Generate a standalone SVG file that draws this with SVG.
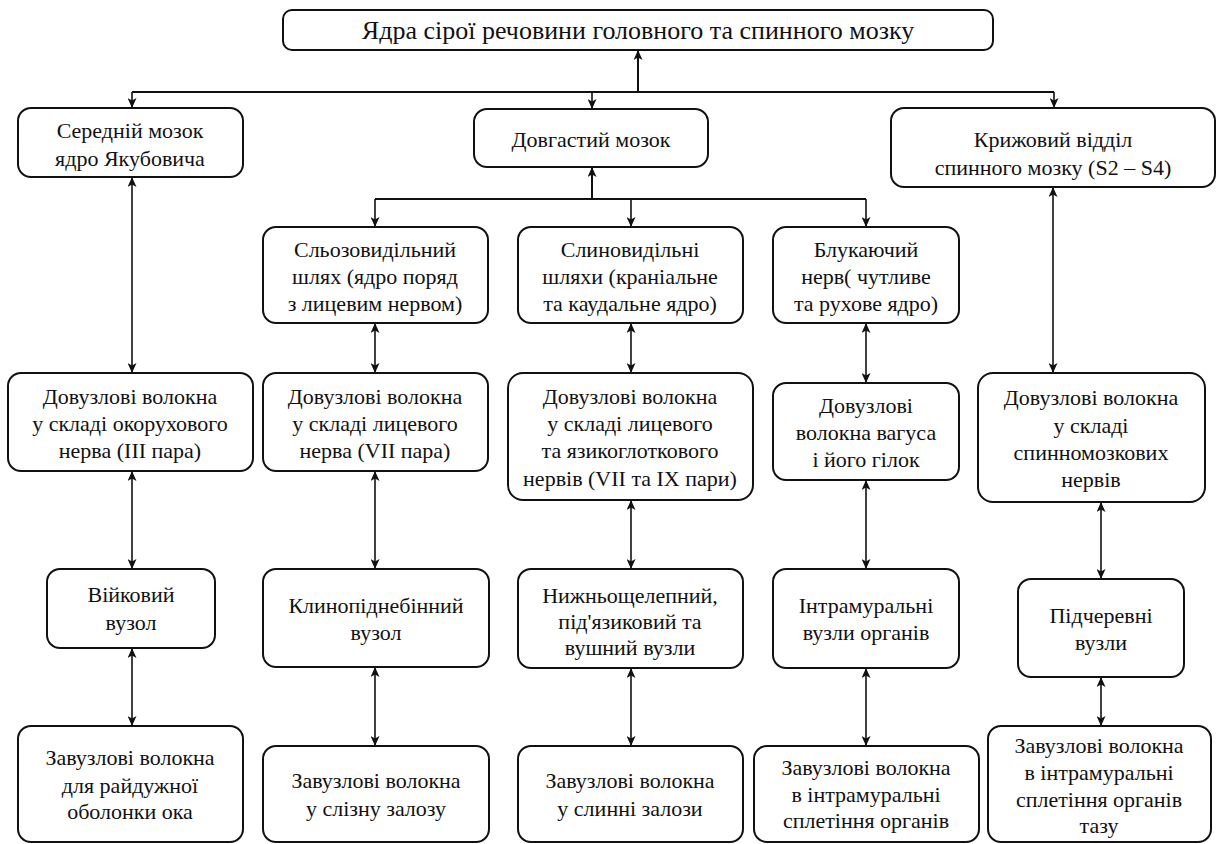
<svg xmlns="http://www.w3.org/2000/svg" width="1222" height="844" viewBox="0 0 1222 844">
<defs>
<marker id="ah" markerUnits="userSpaceOnUse" markerWidth="10" markerHeight="9" refX="10" refY="4.5" orient="auto-start-reverse">
<path d="M0,0 L10,4.5 L0,9 L2.5,4.5 z" fill="#111"/>
</marker>
</defs>
<rect width="1222" height="844" fill="#fff"/>
<g id="connectors" fill="none" stroke="#111" stroke-width="1.6">
<g stroke-width="2" marker-end="url(#ah)">
<path d="M638,92 V50"/>
<path d="M592,199 V167"/>
</g>
<g stroke-width="2">
<path d="M132,92 H1054"/>
<path d="M375,199 H866"/>
</g>
<g marker-end="url(#ah)">
<path d="M132,92 V108"/>
<path d="M592,92 V109"/>
<path d="M1054,92 V108"/>
<path d="M375,199 V227"/>
<path d="M631,199 V227"/>
<path d="M866,199 V227"/>
</g>
<g marker-start="url(#ah)" marker-end="url(#ah)">
<path d="M132,177 V373"/>
<path d="M1053,187 V373"/>
<path d="M375,323 V373"/>
<path d="M631,323 V373"/>
<path d="M866,323 V383"/>
<path d="M132,471 V569"/>
<path d="M375,471 V569"/>
<path d="M631,500 V569"/>
<path d="M866,480 V569"/>
<path d="M1101,502 V579"/>
<path d="M132,648 V726"/>
<path d="M375,667 V746"/>
<path d="M631,668 V746"/>
<path d="M866,668 V746"/>
<path d="M1101,677 V726"/>
</g>
</g>
<g id="nodes" fill="#fff" stroke="#111" stroke-width="2">
<g id="n0"><rect x="283" y="10" width="710" height="40" rx="9"/><text stroke="none" fill="#111" font-family="Liberation Serif" font-size="26" text-anchor="middle" x="638" y="39">Ядра сірої речовини головного та спинного мозку</text></g>
<g id="n1"><rect x="18" y="108" width="225" height="69" rx="13"/><text stroke="none" fill="#111" font-family="Liberation Serif" font-size="22" text-anchor="middle" x="130" y="138">Середній мозок</text><text stroke="none" fill="#111" font-family="Liberation Serif" font-size="22" text-anchor="middle" x="130" y="166">ядро Якубовича</text></g>
<g id="n2"><rect x="474" y="109" width="234" height="58" rx="13"/><text stroke="none" fill="#111" font-family="Liberation Serif" font-size="22" text-anchor="middle" x="591" y="147">Довгастий мозок</text></g>
<g id="n3"><rect x="891" y="108" width="324" height="79" rx="13"/><text stroke="none" fill="#111" font-family="Liberation Serif" font-size="22" text-anchor="middle" x="1053" y="147">Крижовий відділ</text><text stroke="none" fill="#111" font-family="Liberation Serif" font-size="22" text-anchor="middle" x="1053" y="175">спинного мозку (S2 – S4)</text></g>
<g id="n4"><rect x="263" y="227" width="225" height="96" rx="13"/><text stroke="none" fill="#111" font-family="Liberation Serif" font-size="22" text-anchor="middle" x="375" y="257">Сльозовидільний</text><text stroke="none" fill="#111" font-family="Liberation Serif" font-size="22" text-anchor="middle" x="375" y="284">шлях (ядро поряд</text><text stroke="none" fill="#111" font-family="Liberation Serif" font-size="22" text-anchor="middle" x="375" y="311">з лицевим нервом)</text></g>
<g id="n5"><rect x="518" y="227" width="225" height="96" rx="13"/><text stroke="none" fill="#111" font-family="Liberation Serif" font-size="22" text-anchor="middle" x="630" y="257">Слиновидільні</text><text stroke="none" fill="#111" font-family="Liberation Serif" font-size="22" text-anchor="middle" x="630" y="284">шляхи (краніальне</text><text stroke="none" fill="#111" font-family="Liberation Serif" font-size="22" text-anchor="middle" x="630" y="311">та каудальне ядро)</text></g>
<g id="n6"><rect x="773" y="227" width="186" height="96" rx="13"/><text stroke="none" fill="#111" font-family="Liberation Serif" font-size="22" text-anchor="middle" x="866" y="257">Блукаючий</text><text stroke="none" fill="#111" font-family="Liberation Serif" font-size="22" text-anchor="middle" x="866" y="284">нерв( чутливе</text><text stroke="none" fill="#111" font-family="Liberation Serif" font-size="22" text-anchor="middle" x="866" y="311">та рухове ядро)</text></g>
<g id="n7"><rect x="8" y="373" width="245" height="98" rx="13"/><text stroke="none" fill="#111" font-family="Liberation Serif" font-size="22" text-anchor="middle" x="130" y="404">Довузлові волокна</text><text stroke="none" fill="#111" font-family="Liberation Serif" font-size="22" text-anchor="middle" x="130" y="431">у складі окорухового</text><text stroke="none" fill="#111" font-family="Liberation Serif" font-size="22" text-anchor="middle" x="130" y="458">нерва (III пара)</text></g>
<g id="n8"><rect x="263" y="373" width="225" height="98" rx="13"/><text stroke="none" fill="#111" font-family="Liberation Serif" font-size="22" text-anchor="middle" x="375" y="404">Довузлові волокна</text><text stroke="none" fill="#111" font-family="Liberation Serif" font-size="22" text-anchor="middle" x="375" y="431">у складі лицевого</text><text stroke="none" fill="#111" font-family="Liberation Serif" font-size="22" text-anchor="middle" x="375" y="458">нерва (VII пара)</text></g>
<g id="n9"><rect x="508" y="373" width="245" height="127" rx="15"/><text stroke="none" fill="#111" font-family="Liberation Serif" font-size="22" text-anchor="middle" x="630" y="404">Довузлові волокна</text><text stroke="none" fill="#111" font-family="Liberation Serif" font-size="22" text-anchor="middle" x="630" y="431">у складі лицевого</text><text stroke="none" fill="#111" font-family="Liberation Serif" font-size="22" text-anchor="middle" x="630" y="458">та язикоглоткового</text><text stroke="none" fill="#111" font-family="Liberation Serif" font-size="22" text-anchor="middle" x="630" y="486">нервів (VII та IX пари)</text></g>
<g id="n10"><rect x="773" y="383" width="186" height="97" rx="13"/><text stroke="none" fill="#111" font-family="Liberation Serif" font-size="22" text-anchor="middle" x="866" y="413">Довузлові</text><text stroke="none" fill="#111" font-family="Liberation Serif" font-size="22" text-anchor="middle" x="866" y="440">волокна вагуса</text><text stroke="none" fill="#111" font-family="Liberation Serif" font-size="22" text-anchor="middle" x="866" y="467">і його гілок</text></g>
<g id="n11"><rect x="978" y="373" width="227" height="129" rx="15"/><text stroke="none" fill="#111" font-family="Liberation Serif" font-size="22" text-anchor="middle" x="1091" y="405">Довузлові волокна</text><text stroke="none" fill="#111" font-family="Liberation Serif" font-size="22" text-anchor="middle" x="1091" y="433">у складі</text><text stroke="none" fill="#111" font-family="Liberation Serif" font-size="22" text-anchor="middle" x="1091" y="460">спинномозкових</text><text stroke="none" fill="#111" font-family="Liberation Serif" font-size="22" text-anchor="middle" x="1091" y="487">нервів</text></g>
<g id="n12"><rect x="47" y="569" width="168" height="79" rx="13"/><text stroke="none" fill="#111" font-family="Liberation Serif" font-size="22" text-anchor="middle" x="131" y="602">Війковий</text><text stroke="none" fill="#111" font-family="Liberation Serif" font-size="22" text-anchor="middle" x="131" y="630">вузол</text></g>
<g id="n13"><rect x="263" y="569" width="226" height="98" rx="13"/><text stroke="none" fill="#111" font-family="Liberation Serif" font-size="22" text-anchor="middle" x="376" y="613">Клинопіднебінний</text><text stroke="none" fill="#111" font-family="Liberation Serif" font-size="22" text-anchor="middle" x="376" y="640">вузол</text></g>
<g id="n14"><rect x="518" y="569" width="225" height="99" rx="13"/><text stroke="none" fill="#111" font-family="Liberation Serif" font-size="22" text-anchor="middle" x="630" y="603">Нижньощелепний,</text><text stroke="none" fill="#111" font-family="Liberation Serif" font-size="22" text-anchor="middle" x="630" y="629">під'язиковий та</text><text stroke="none" fill="#111" font-family="Liberation Serif" font-size="22" text-anchor="middle" x="630" y="655">вушний вузли</text></g>
<g id="n15"><rect x="773" y="569" width="186" height="99" rx="13"/><text stroke="none" fill="#111" font-family="Liberation Serif" font-size="22" text-anchor="middle" x="866" y="613">Інтрамуральні</text><text stroke="none" fill="#111" font-family="Liberation Serif" font-size="22" text-anchor="middle" x="866" y="640">вузли органів</text></g>
<g id="n16"><rect x="1018" y="579" width="166" height="98" rx="13"/><text stroke="none" fill="#111" font-family="Liberation Serif" font-size="22" text-anchor="middle" x="1101" y="623">Підчеревні</text><text stroke="none" fill="#111" font-family="Liberation Serif" font-size="22" text-anchor="middle" x="1101" y="650">вузли</text></g>
<g id="n17"><rect x="18" y="726" width="225" height="116" rx="13"/><text stroke="none" fill="#111" font-family="Liberation Serif" font-size="22" text-anchor="middle" x="130" y="765">Завузлові волокна</text><text stroke="none" fill="#111" font-family="Liberation Serif" font-size="22" text-anchor="middle" x="130" y="793">для райдужної</text><text stroke="none" fill="#111" font-family="Liberation Serif" font-size="22" text-anchor="middle" x="130" y="819">оболонки ока</text></g>
<g id="n18"><rect x="263" y="746" width="226" height="96" rx="13"/><text stroke="none" fill="#111" font-family="Liberation Serif" font-size="22" text-anchor="middle" x="376" y="788">Завузлові волокна</text><text stroke="none" fill="#111" font-family="Liberation Serif" font-size="22" text-anchor="middle" x="376" y="816">у слізну залозу</text></g>
<g id="n19"><rect x="518" y="746" width="225" height="96" rx="13"/><text stroke="none" fill="#111" font-family="Liberation Serif" font-size="22" text-anchor="middle" x="630" y="788">Завузлові волокна</text><text stroke="none" fill="#111" font-family="Liberation Serif" font-size="22" text-anchor="middle" x="630" y="816">у слинні залози</text></g>
<g id="n20"><rect x="754" y="746" width="225" height="96" rx="13"/><text stroke="none" fill="#111" font-family="Liberation Serif" font-size="22" text-anchor="middle" x="866" y="775">Завузлові волокна</text><text stroke="none" fill="#111" font-family="Liberation Serif" font-size="22" text-anchor="middle" x="866" y="802">в інтрамуральні</text><text stroke="none" fill="#111" font-family="Liberation Serif" font-size="22" text-anchor="middle" x="866" y="828">сплетіння органів</text></g>
<g id="n21"><rect x="988" y="726" width="223" height="116" rx="13"/><text stroke="none" fill="#111" font-family="Liberation Serif" font-size="22" text-anchor="middle" x="1099" y="753">Завузлові волокна</text><text stroke="none" fill="#111" font-family="Liberation Serif" font-size="22" text-anchor="middle" x="1099" y="780">в інтрамуральні</text><text stroke="none" fill="#111" font-family="Liberation Serif" font-size="22" text-anchor="middle" x="1099" y="807">сплетіння органів</text><text stroke="none" fill="#111" font-family="Liberation Serif" font-size="22" text-anchor="middle" x="1099" y="833">тазу</text></g>
</g>
</svg>
